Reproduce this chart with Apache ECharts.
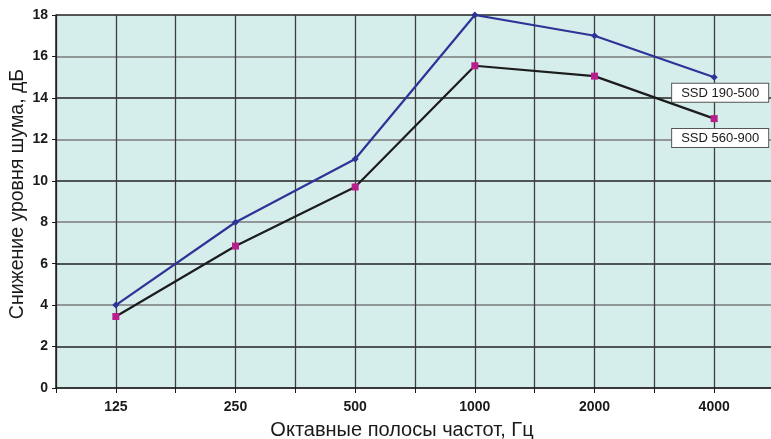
<!DOCTYPE html>
<html>
<head>
<meta charset="utf-8">
<script src="https://cdn.jsdelivr.net/npm/echarts@6/dist/echarts.min.js"></script>
<style>
  html, body { margin: 0; padding: 0; background: #ffffff; }
  #chart { width: 771px; height: 439px; }
</style>
</head>
<body>
<div id="chart"></div>
<script>
// Octave bands (Hz) and noise reduction (dB) for two silencer models
const bands = ['125', '250', '500', '1000', '2000', '4000'];
const ssd190 = [4.0, 8.0, 11.05, 18.0, 17.0, 15.0];
const ssd560 = [3.45, 6.85, 9.7, 15.55, 15.05, 13.0];
const seriesNames = ['SSD 190-500', 'SSD 560-900'];
const yTicks = { min: 0, max: 18, step: 2 };

const toPoints = vals => vals.map((v, i) => [i, v]);

// Boxed series name attached under the last point of each line
function endLabel(vals, name, distance) {
  const pts = toPoints(vals);
  const last = pts.length - 1;
  return pts.map((p, i) => i === last ? {
    value: p,
    label: {
      show: true,
      position: 'bottom',
      distance: distance,
      offset: [6, 0],
      formatter: name,
      color: '#1a1a1a',
      fontFamily: 'Liberation Sans, Arial, sans-serif',
      fontSize: 13,
      backgroundColor: '#ffffff',
      borderColor: '#555555',
      borderWidth: 1,
      padding: [3, 9, 2, 9]
    }
  } : { value: p });
}

const chart = echarts.init(document.getElementById('chart'), null, { renderer: 'canvas' });

chart.setOption({
  animation: false,
  backgroundColor: '#ffffff',
  grid: {
    left: 56, top: 15, bottom: 51, width: 718,
    containLabel: false,
    outerBoundsMode: 'none',
    show: true, backgroundColor: '#d6eeeb', borderWidth: 0
  },
  xAxis: {
    type: 'value',
    min: -0.5,
    max: 5.5,
    interval: 0.5,
    name: 'Октавные полосы частот, Гц',
    nameLocation: 'middle',
    nameGap: 32,
    nameTextStyle: {
      fontFamily: 'Liberation Sans, Arial, sans-serif',
      fontSize: 20,
      color: '#1a1a1a',
      padding: [0, 26, 0, 0]
    },
    axisLine: { show: true, onZero: false, lineStyle: { color: '#1a1a1a', width: 1.5 } },
    axisTick: { show: true, length: 5, inside: false, lineStyle: { color: '#1a1a1a', width: 1 } },
    axisLabel: {
      margin: 12,
      fontFamily: 'Liberation Sans, Arial, sans-serif',
      fontWeight: 'bold',
      fontSize: 14,
      color: '#1a1a1a',
      showMinLabel: true,
      showMaxLabel: true,
      formatter: v => (Number.isInteger(v) && bands[v] !== undefined) ? bands[v] : ''
    },
    splitLine: { show: true, lineStyle: { color: '#3e3e3e', width: 1.3 } }
  },
  yAxis: {
    type: 'value',
    min: yTicks.min,
    max: yTicks.max,
    interval: yTicks.step,
    name: 'Снижение уровня шума, дБ',
    nameLocation: 'middle',
    nameGap: 28,
    nameMoveOverlap: false,
    nameTextStyle: {
      fontFamily: 'Liberation Sans, Arial, sans-serif',
      fontSize: 19.5,
      color: '#1a1a1a',
      padding: [0, 0, 0, 15]
    },
    axisLine: { show: true, onZero: false, lineStyle: { color: '#1a1a1a', width: 1.5 } },
    axisTick: { show: true, length: 4, lineStyle: { color: '#1a1a1a', width: 1 } },
    axisLabel: {
      margin: 8,
      fontFamily: 'Liberation Sans, Arial, sans-serif',
      fontWeight: 'bold',
      fontSize: 14,
      color: '#1a1a1a'
    },
    splitLine: { show: true, lineStyle: { color: ['#7a7a7a', '#222222'], width: 1.5 } }
  },
  series: [
    {
      name: seriesNames[0],
      type: 'line',
      data: endLabel(ssd190, seriesNames[0], 3),
      symbol: 'diamond',
      symbolSize: 7,
      lineStyle: { color: '#2e3397', width: 2.2 },
      itemStyle: { color: '#2e3397' },
      z: 3
    },
    {
      name: seriesNames[1],
      type: 'line',
      data: endLabel(ssd560, seriesNames[1], 7),
      symbol: 'rect',
      symbolSize: 7,
      lineStyle: { color: '#1c1c1c', width: 2.2 },
      itemStyle: { color: '#b81f8c' },
      z: 4
    }
  ]
});
</script>
</body>
</html>
